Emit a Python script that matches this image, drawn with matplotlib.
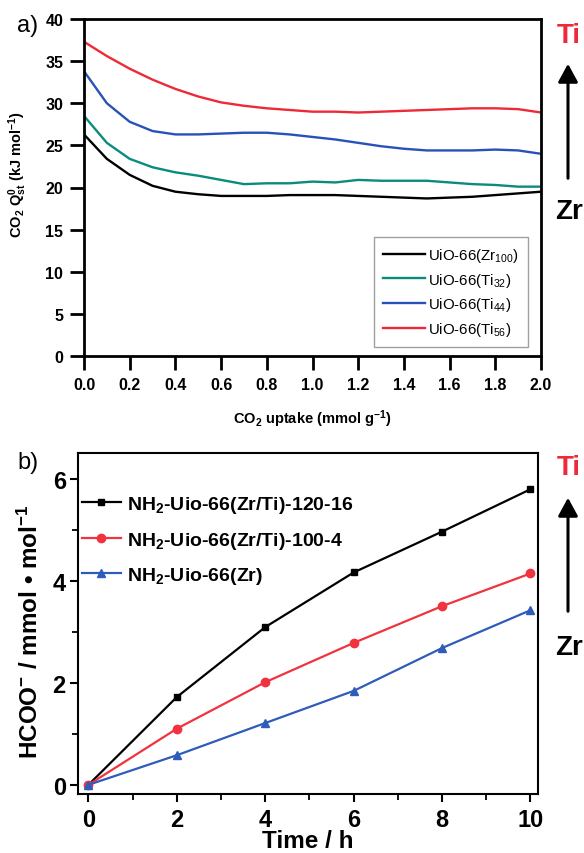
import matplotlib
matplotlib.use("Agg")
import matplotlib.pyplot as plt
from matplotlib.ticker import MultipleLocator

plt.rcParams['font.family'] = ['Liberation Sans', 'DejaVu Sans']
plt.rcParams['mathtext.fontset'] = 'custom'
plt.rcParams['mathtext.rm'] = 'Liberation Sans'
plt.rcParams['mathtext.bf'] = 'Liberation Sans:bold'
plt.rcParams['mathtext.it'] = 'Liberation Sans:italic'
plt.rcParams['mathtext.default'] = 'regular'

# ---------------- Panel a data ----------------
uptake = [0.0, 0.1, 0.2, 0.3, 0.4, 0.5, 0.6, 0.7, 0.8, 0.9, 1.0,
          1.1, 1.2, 1.3, 1.4, 1.5, 1.6, 1.7, 1.8, 1.9, 2.0]
q_zr100 = [26.3, 23.4, 21.5, 20.2, 19.5, 19.2, 19.0, 19.0, 19.0, 19.1, 19.1,
           19.1, 19.0, 18.9, 18.8, 18.7, 18.8, 18.9, 19.1, 19.3, 19.5]
q_ti32 = [28.5, 25.3, 23.4, 22.4, 21.8, 21.4, 20.9, 20.4, 20.5, 20.5, 20.7,
          20.6, 20.9, 20.8, 20.8, 20.8, 20.6, 20.4, 20.3, 20.1, 20.1]
q_ti44 = [33.8, 30.0, 27.8, 26.7, 26.3, 26.3, 26.4, 26.5, 26.5, 26.3, 26.0,
          25.7, 25.3, 24.9, 24.6, 24.4, 24.4, 24.4, 24.5, 24.4, 24.0]
q_ti56 = [37.3, 35.6, 34.1, 32.8, 31.7, 30.8, 30.1, 29.7, 29.4, 29.2, 29.0,
          29.0, 28.9, 29.0, 29.1, 29.2, 29.3, 29.4, 29.4, 29.3, 28.9]
labels_a = ['UiO-66(Zr$_{100}$)', 'UiO-66(Ti$_{32}$)',
            'UiO-66(Ti$_{44}$)', 'UiO-66(Ti$_{56}$)']
colors_a = ['#000000', '#0a8c7c', '#2852b8', '#ee2a38']

# ---------------- Panel b data ----------------
time_h = [0, 2, 4, 6, 8, 10]
hcoo_120_16 = [0.0, 1.72, 3.09, 4.16, 4.96, 5.79]
hcoo_100_4 = [0.0, 1.10, 2.01, 2.78, 3.50, 4.14]
hcoo_zr = [0.0, 0.58, 1.21, 1.84, 2.68, 3.42]
labels_b = [r'NH$_\mathbf{2}$-Uio-66(Zr/Ti)-120-16',
            r'NH$_\mathbf{2}$-Uio-66(Zr/Ti)-100-4',
            r'NH$_\mathbf{2}$-Uio-66(Zr)']
colors_b = ['#000000', '#f0333f', '#2f5cb8']
markers_b = ['s', 'o', '^']

W, H = 584, 854
fig = plt.figure(figsize=(W / 100, H / 100), dpi=100)


def ax_rect(l, r, t, b):
    return [l / W, 1 - b / H, (r - l) / W, (b - t) / H]


def fx(x):
    return x / W


def fy(y):
    return 1 - y / H

# ================= Panel a =================
axa = fig.add_axes(ax_rect(84, 541, 20, 357))
for y, lab, c in zip([q_zr100, q_ti32, q_ti44, q_ti56], labels_a, colors_a):
    axa.plot(uptake, y, color=c, lw=1.7, label=lab)
axa.set_xlim(0, 2.0)
axa.set_ylim(0, 40)
axa.xaxis.set_major_locator(MultipleLocator(0.2))
axa.yaxis.set_major_locator(MultipleLocator(5))
axa.xaxis.set_major_formatter(matplotlib.ticker.FormatStrFormatter('%.1f'))
for s in axa.spines.values():
    s.set_linewidth(2.0)
axa.tick_params(direction='out', length=10, width=2.0, labelsize=11.5, pad=5,
                top=False, right=False)
for lab in axa.get_xticklabels() + axa.get_yticklabels():
    lab.set_fontweight('bold')
axa.set_xlabel(r'CO$_\mathbf{2}$ uptake (mmol g$^\mathbf{-1}$)', fontsize=10.5,
               fontweight='bold')
axa.xaxis.set_label_coords(0.5, -0.152)
axa.set_ylabel(r'CO$_\mathbf{2}$ Q$^\mathbf{0}_\mathbf{st}$ (kJ mol$^\mathbf{-1}$)',
               fontsize=10.5, fontweight='bold')
axa.yaxis.set_label_coords(-0.12, 0.54)
leg = axa.legend(loc='lower right', bbox_to_anchor=(0.9716, 0.0267),
                 borderaxespad=0, fontsize=10.8, handlelength=2.8,
                 handletextpad=0.2, labelspacing=0.45, fancybox=False,
                 edgecolor='#888888', borderpad=0.6)
leg.get_frame().set_linewidth(1.0)

fig.text(fx(17), fy(26), 'a)', fontsize=17, ha='left', va='center')
fig.text(fx(569), fy(36), 'Ti', fontsize=20, fontweight='bold', color='#ee2a38',
         ha='center', va='center')
fig.text(fx(569), fy(212), 'Zr', fontsize=20, fontweight='bold', color='black',
         ha='center', va='center')
fig.add_artist(matplotlib.patches.FancyArrowPatch(
    (fx(568), fy(182)), (fx(568), fy(62)), transform=fig.transFigure,
    arrowstyle='-|>,head_length=0.55,head_width=0.3', mutation_scale=20,
    lw=2.2, color='black'))

# ================= Panel b =================
axb = fig.add_axes(ax_rect(78.3, 538, 454, 795))
for y, lab, c, m in zip([hcoo_120_16, hcoo_100_4, hcoo_zr], labels_b,
                        colors_b, markers_b):
    ms = 5.0 if m == 's' else 6.0
    axb.plot(time_h, y, color=c, lw=1.6, marker=m, ms=ms, label=lab)
axb.set_xlim(-0.23, 10.17)
axb.set_ylim(-0.18, 6.5)
axb.xaxis.set_major_locator(MultipleLocator(2))
axb.xaxis.set_minor_locator(MultipleLocator(1))
axb.yaxis.set_major_locator(MultipleLocator(2))
axb.yaxis.set_minor_locator(MultipleLocator(1))
for s in axb.spines.values():
    s.set_linewidth(1.5)
axb.tick_params(which='major', direction='out', length=6, width=1.5,
                labelsize=17, pad=3, top=False, right=False)
axb.tick_params(which='minor', direction='out', length=4, width=1.3,
                top=False, right=False)
axb.tick_params(axis='x', which='major', pad=4)
for lab in axb.get_xticklabels() + axb.get_yticklabels():
    lab.set_fontweight('bold')
axb.set_xlabel('Time / h', fontsize=17.5, fontweight='bold')
axb.xaxis.set_label_coords(0.5, -0.102)
axb.set_ylabel(r'HCOO$^\mathbf{-}$ / mmol • mol$^\mathbf{-1}$', fontsize=17.5,
               fontweight='bold')
axb.yaxis.set_label_coords(-0.078, 0.48)
legb = axb.legend(loc='upper left', bbox_to_anchor=(0.008, 0.88),
                  borderaxespad=0, borderpad=0, frameon=False,
                  prop={'size': 14, 'weight': 'bold'}, handlelength=2.0,
                  handletextpad=0.3, labelspacing=0.75)

fig.text(fx(17), fy(463), 'b)', fontsize=17, ha='left', va='center')
fig.text(fx(569), fy(468), 'Ti', fontsize=20, fontweight='bold', color='#ee2a38',
         ha='center', va='center')
fig.text(fx(569), fy(648), 'Zr', fontsize=20, fontweight='bold', color='black',
         ha='center', va='center')
fig.add_artist(matplotlib.patches.FancyArrowPatch(
    (fx(568), fy(615)), (fx(568), fy(496)), transform=fig.transFigure,
    arrowstyle='-|>,head_length=0.55,head_width=0.3', mutation_scale=20,
    lw=2.2, color='black'))

fig.savefig('out.png', dpi=100)
